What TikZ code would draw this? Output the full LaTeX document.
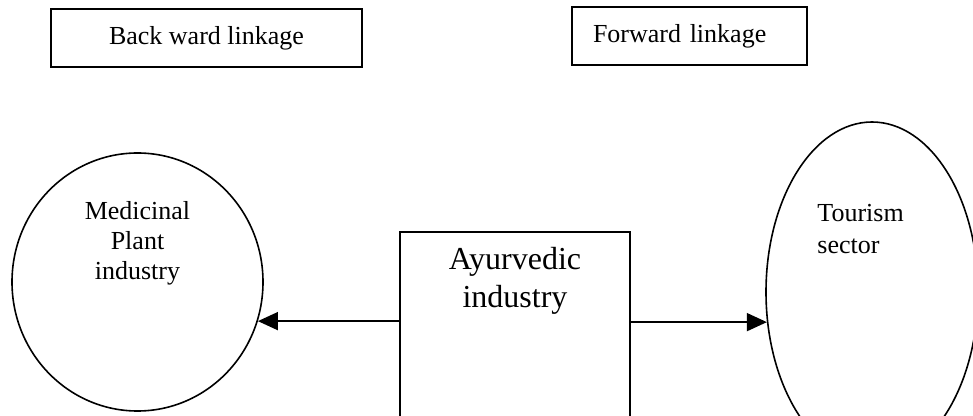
\documentclass[tikz,border=0pt]{standalone}
\usepackage{fontspec}
\setmainfont{Liberation Serif}
\usetikzlibrary{shapes.geometric,arrows.meta,positioning,calc}

\begin{document}
\begin{tikzpicture}[
    x=0.5pt, y=-0.5pt,
    linkbox/.style={rectangle, draw, line width=0.9pt, minimum height=29pt, inner sep=0pt, font=\fontsize{13}{15}\selectfont},
    sector/.style={ellipse, draw, line width=0.8pt, inner sep=0pt},
    caption/.style={inner sep=0pt, align=center, font=\fontsize{13}{15}\selectfont},
    arrow/.style={-{Triangle[length=10pt,width=9pt]}, line width=0.8pt}
]
\useasboundingbox (0,0) rectangle (973,416);

% Linkage labels
\node[linkbox, minimum width=155.5pt] (back) at (206.5,38) {Back ward linkage};
\node[linkbox, text width=96.5pt, inner xsep=10.5pt, align=left] (fwd) at (689.5,36) {Forward linkage};

% Medicinal plant industry
\node[sector, minimum width=125.5pt, minimum height=129pt] (plant) at (137.5,282) {};
\node[caption, below=24.5pt of plant.north] (planttext) {Medicinal\\Plant\\industry};

% Ayurvedic industry
\node[rectangle, draw, line width=0.9pt, minimum width=115pt, minimum height=110pt, anchor=north] (ayur) at (515,231) {};
\node[caption, font=\fontsize{16}{19}\selectfont, below=8pt of ayur.north] (ayurtext) {Ayurvedic\\industry};

% Tourism sector
\node[sector, minimum width=106pt, minimum height=170pt] (tour) at (872,292) {};
\node[caption, align=left, anchor=north west, font=\fontsize{13}{16}\selectfont] (tourtext) at (817,204) {Tourism\\sector};

% Links
\draw[arrow] (ayur.west |- plant.-18.5) -- (plant.-18.5);
\draw[arrow] (ayur.east |- tour.196) -- (tour.196);

\end{tikzpicture}
\end{document}
